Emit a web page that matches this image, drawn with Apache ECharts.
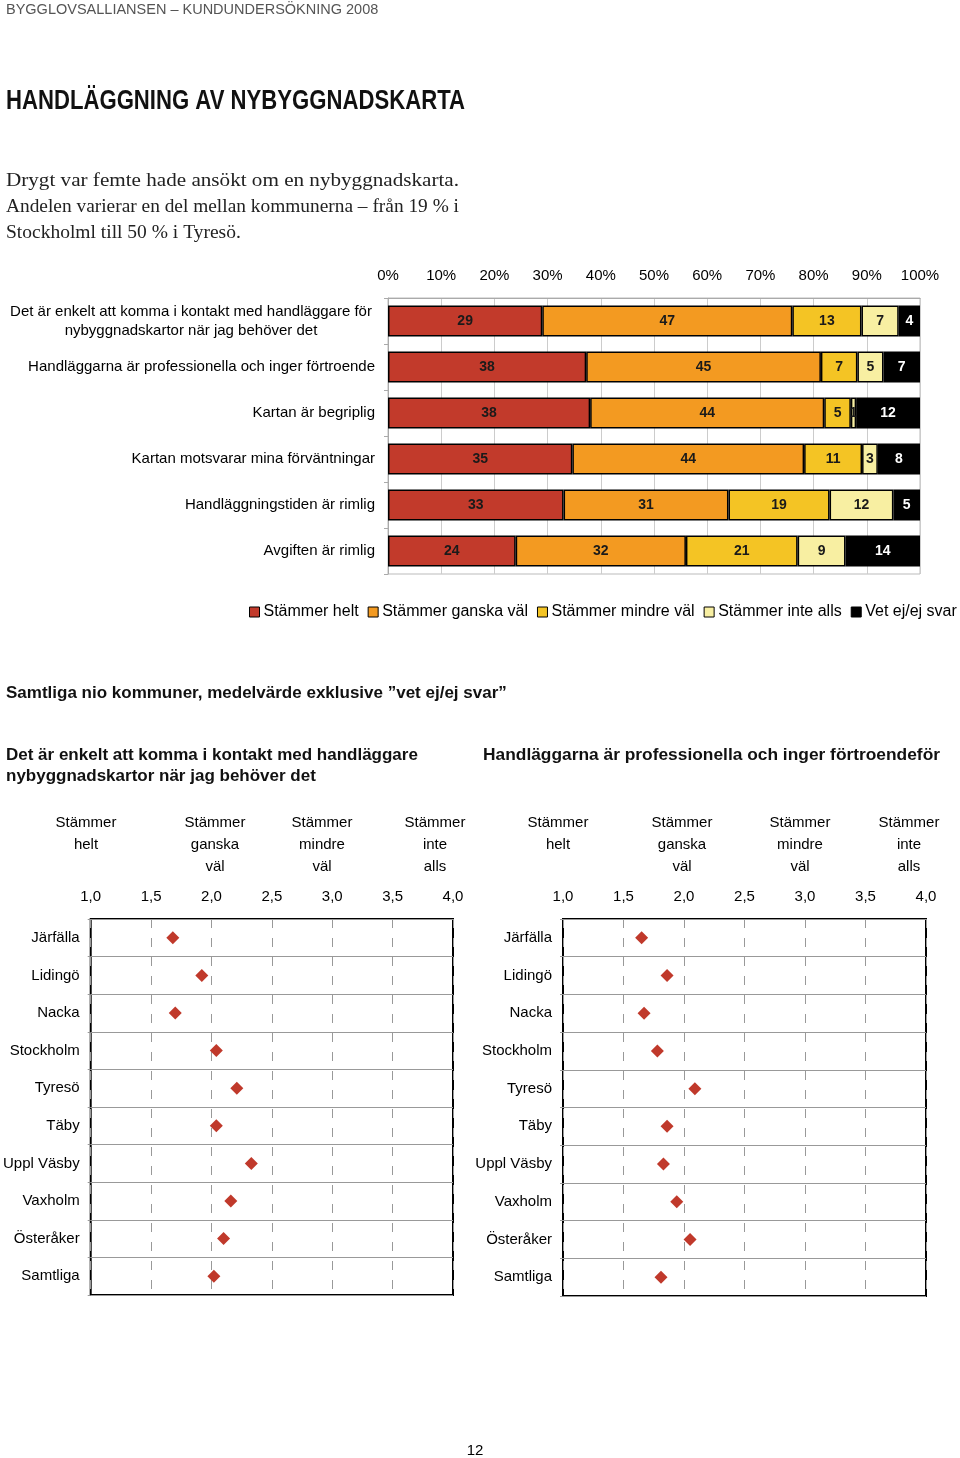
<!DOCTYPE html>
<html>
<head>
<meta charset="utf-8">
<script src="https://cdn.jsdelivr.net/npm/echarts@6/dist/echarts.min.js"></script>
<style>
html,body{margin:0;padding:0;background:#fff;}
#c{width:960px;height:1458px;}
</style>
</head>
<body>
<div id="c"></div>
<script>
// ---- Data: stacked bar chart ----
const barCategories = [
  "Det är enkelt att komma i kontakt med handläggare för\nnybyggnadskartor när jag behöver det",
  "Handläggarna är professionella och inger förtroende",
  "Kartan är begriplig",
  "Kartan motsvarar mina förväntningar",
  "Handläggningstiden är rimlig",
  "Avgiften är rimlig"
];
const seriesNames = ["Stämmer helt", "Stämmer ganska väl", "Stämmer mindre väl", "Stämmer inte alls", "Vet ej/ej svar"];
const stammerHelt   = [29, 38, 38, 35, 33, 24];
const stammerGanska = [47, 45, 44, 44, 31, 32];
const stammerMindre = [13, 7, 5, 11, 19, 21];
const stammerInte   = [7, 5, 1, 3, 12, 9];
const vetEj         = [4, 7, 12, 8, 5, 14];
const percentTicks = ["0%","10%","20%","30%","40%","50%","60%","70%","80%","90%","100%"];

// ---- Data: dot plots ----
const kommuner = ["Järfälla","Lidingö","Nacka","Stockholm","Tyresö","Täby","Uppl Väsby","Vaxholm","Österåker","Samtliga"];
const kontaktMedel = [1.68, 1.92, 1.70, 2.04, 2.21, 2.04, 2.33, 2.16, 2.10, 2.02];
const professionellaMedel = [1.65, 1.86, 1.67, 1.78, 2.09, 1.86, 1.83, 1.94, 2.05, 1.81];
const scaleHeaders = ["Stämmer\nhelt", "Stämmer\nganska\nväl", "Stämmer\nmindre\nväl", "Stämmer\ninte\nalls"];

const colors = ["#C23A2B", "#F39A21", "#F4C424", "#F8EFA2", "#000000"];
const allSeries = [stammerHelt, stammerGanska, stammerMindre, stammerInte, vetEj];
const rowSums = barCategories.map((_, i) => allSeries.reduce((s, arr) => s + arr[i], 0));

const FONT = "Arial, 'Liberation Sans', Helvetica, sans-serif";
const SERIF = "'Liberation Serif', 'DejaVu Serif', serif";

const measureCtx = document.createElement('canvas').getContext('2d');
function textWidth(text, font) { measureCtx.font = font; return measureCtx.measureText(text).width; }

const barSeries = allSeries.map((arr, si) => ({
  name: seriesNames[si],
  type: 'bar',
  stack: 'total',
  xAxisIndex: 0,
  yAxisIndex: 0,
  barWidth: 31,
  itemStyle: { color: colors[si], borderColor: '#000', borderWidth: 1.5 },
  label: {
    show: true,
    position: 'inside',
    fontFamily: FONT,
    fontWeight: 'bold',
    fontSize: 14,
    color: si === 4 ? '#fff' : '#1a1a1a',
    formatter: p => arr[p.dataIndex]
  },
  data: arr.map((v, i) => v / rowSums[i] * 100)
}));

function dotSeries(values, axisIdx) {
  return {
    type: 'scatter',
    xAxisIndex: axisIdx,
    yAxisIndex: axisIdx,
    symbol: 'diamond',
    symbolSize: 13,
    itemStyle: { color: '#C0392B', opacity: 1 },
    data: values.map((v, i) => [v, kommuner[i]])
  };
}

function dotXAxis(grid) {
  return {
    gridIndex: grid,
    type: 'value',
    position: 'top',
    min: 1, max: 4, interval: 0.5,
    axisLine: { show: false },
    axisTick: { show: false },
    axisLabel: { fontFamily: FONT, fontSize: 15, color: '#000', margin: 15,
                 formatter: v => v.toFixed(1).replace('.', ',') },
    splitLine: { show: true, lineStyle: { color: '#999', width: 1, type: [9, 10] } }
  };
}
function dotYAxis(grid) {
  return {
    gridIndex: grid,
    type: 'category',
    inverse: true,
    data: kommuner,
    axisLine: { show: false },
    axisTick: { show: true, length: 3, lineStyle: { color: '#999' } },
    axisLabel: { fontFamily: FONT, fontSize: 15, color: '#000', margin: 11 },
    splitLine: { show: true, lineStyle: { color: '#999', width: 1 } }
  };
}

function txt(text, x, y, opts) {
  return {
    type: 'text', x: x, y: y, silent: true,
    style: Object.assign({
      text: text, fill: '#000', font: '15px ' + FONT,
      textAlign: 'left', textVerticalAlign: 'middle'
    }, opts || {})
  };
}
function fitted(text, x, y, font, targetWidth, opts) {
  const g = txt(text, x, y, Object.assign({ font: font }, opts || {}));
  g.scaleX = targetWidth / textWidth(text, font);
  g.originX = x; g.originY = y;
  g.x = 0; g.y = 0;
  g.style.x = x; g.style.y = y;
  return g;
}

const titleFont = "bold 28px Arial, 'Liberation Sans', sans-serif";
const paraFont = "19.5px " + SERIF;
const graphics = [
  txt("BYGGLOVSALLIANSEN – KUNDUNDERSÖKNING 2008", 6, 10, { font: '14.5px ' + FONT, fill: '#555' }),
  fitted("HANDLÄGGNING AV NYBYGGNADSKARTA", 6, 101, titleFont, 459, { fill: '#111' }),
  fitted("Drygt var femte hade ansökt om en nybyggnadskarta.", 6, 181, paraFont, 453, { fill: '#222' }),
  fitted("Andelen varierar en del mellan kommunerna – från 19 % i", 6, 207, paraFont, 453, { fill: '#222' }),
  txt("Stockholml till 50 % i Tyresö.", 6, 233, { font: paraFont, fill: '#222' }),
  txt("Samtliga nio kommuner, medelvärde exklusive ”vet ej/ej svar”", 6, 693, { font: 'bold 17px ' + FONT, fill: '#111' }),
  txt("Det är enkelt att komma i kontakt med handläggare", 6, 755, { font: 'bold 17px ' + FONT, fill: '#111' }),
  txt("nybyggnadskartor när jag behöver det", 6, 776, { font: 'bold 17px ' + FONT, fill: '#111' }),
  fitted("Handläggarna är professionella och inger förtroendeför", 483, 755, 'bold 17px ' + FONT, 457, { fill: '#111' }),
  txt("12", 475, 1451, { textAlign: 'center' })
];
const leftHeaderX = [86, 215, 322, 435];
const rightHeaderX = [558, 682, 800, 909];
scaleHeaders.forEach((h, i) => {
  graphics.push(txt(h, leftHeaderX[i], 812, { textAlign: 'center', textVerticalAlign: 'top', lineHeight: 22 }));
  graphics.push(txt(h, rightHeaderX[i], 812, { textAlign: 'center', textVerticalAlign: 'top', lineHeight: 22 }));
});

const chart = echarts.init(document.getElementById('c'), null, { renderer: 'canvas' });
chart.setOption({
  animation: false,
  backgroundColor: '#fff',
  textStyle: { fontFamily: FONT },
  graphic: graphics,
  legend: {
    data: seriesNames,
    left: 249, top: 604, width: 711, padding: 0,
    icon: 'rect',
    itemWidth: 10, itemHeight: 10, itemGap: 9,
    itemStyle: { borderColor: '#000', borderWidth: 1 },
    textStyle: { fontFamily: FONT, fontSize: 16, color: '#000', padding: [0, 0, 0, -1] }
  },
  grid: [
    { left: 388, top: 298, width: 532, height: 276, show: true, borderColor: '#bbb', borderWidth: 1 },
    { left: 89, top: 919, width: 364, height: 376, show: true, borderColor: '#000', borderWidth: 2 },
    { left: 563, top: 919, width: 363, height: 377, show: true, borderColor: '#000', borderWidth: 2 }
  ],
  xAxis: [
    {
      gridIndex: 0, type: 'value', position: 'top', min: 0, max: 100, interval: 10,
      axisLine: { show: true, lineStyle: { color: '#aaa' } },
      axisTick: { show: false },
      axisLabel: { fontFamily: FONT, fontSize: 15, color: '#000', margin: 15,
                   formatter: v => percentTicks[Math.round(v / 10)] },
      splitLine: { show: true, lineStyle: { color: '#ccc' } }
    },
    dotXAxis(1),
    dotXAxis(2)
  ],
  yAxis: [
    {
      gridIndex: 0, type: 'category', inverse: true, data: barCategories,
      axisLine: { show: true, lineStyle: { color: '#aaa' } },
      axisTick: { show: true, length: 4, lineStyle: { color: '#aaa' } },
      axisLabel: {
        fontFamily: FONT, fontSize: 15, color: '#000', margin: 13, lineHeight: 19,
        formatter: (v, i) => i === 0 ? v.split('\n').map(l => '{c|' + l + '}').join('\n') : v,
        rich: { c: { width: 368, align: 'center', fontSize: 15, lineHeight: 19, fontFamily: FONT, color: '#000' } }
      }
    },
    dotYAxis(1),
    dotYAxis(2)
  ],
  series: barSeries.concat([dotSeries(kontaktMedel, 1), dotSeries(professionellaMedel, 2)])
});
</script>
</body>
</html>
